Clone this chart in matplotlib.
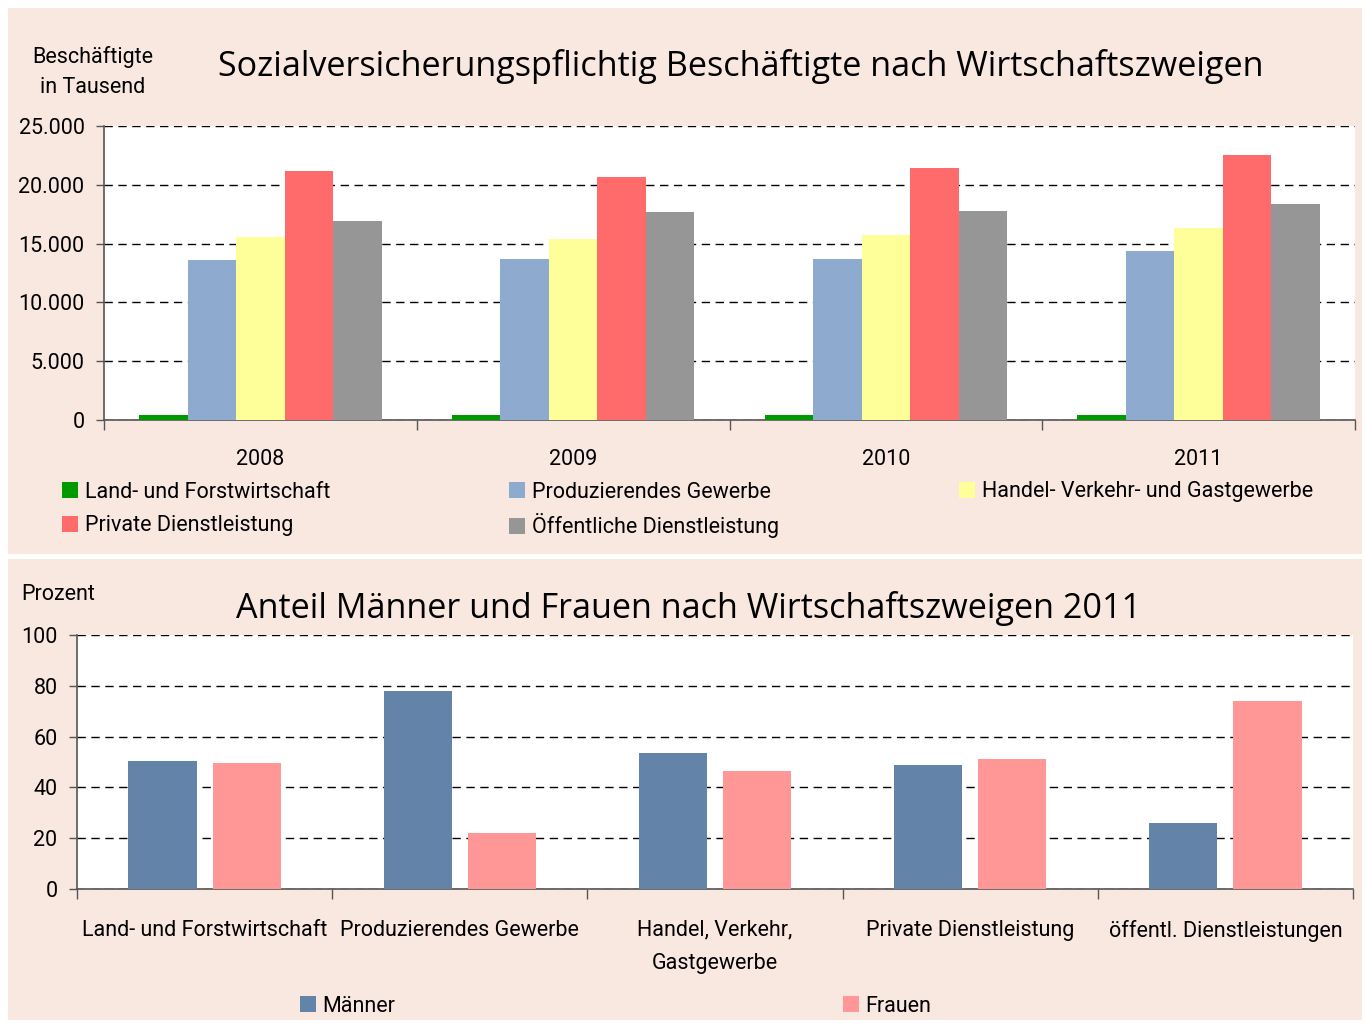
import matplotlib
matplotlib.use("Agg")
import matplotlib.pyplot as plt
import numpy as np
from matplotlib.patches import Rectangle

# ---------------- data ----------------
years = ["2008", "2009", "2010", "2011"]
sectors = ["Land- und Forstwirtschaft", "Produzierendes Gewerbe",
           "Handel- Verkehr- und Gastgewerbe", "Private Dienstleistung",
           "Öffentliche Dienstleistung"]
land = [450, 450, 450, 450]
produz = [13600, 13700, 13700, 14350]
handel = [15600, 15400, 15700, 16300]
privat = [21150, 20700, 21400, 22500]
oeff = [16950, 17700, 17750, 18350]
top_yticks = [0, 5000, 10000, 15000, 20000, 25000]
top_yticklabels = ["0", "5.000", "10.000", "15.000", "20.000", "25.000"]

branches = ["Land- und Forstwirtschaft", "Produzierendes Gewerbe",
            "Handel, Verkehr,\nGastgewerbe", "Private Dienstleistung",
            "öffentl. Dienstleistungen"]
maenner = [50.4, 78.0, 53.5, 48.8, 26.0]
frauen = [49.6, 22.0, 46.5, 51.2, 74.0]
bot_yticks = [0, 20, 40, 60, 80, 100]

# ---------------- style ----------------
W, H = 1365, 1023
BG = "#F9E8E0"
sec_colors = ["#009900", "#8FAACF", "#FFFF99", "#FF6B6B", "#969696"]
col_m = "#6384A8"
col_f = "#FF9797"
FONT = ["Roboto", "DejaVu Sans"]
TFONT = ["Open Sans", "DejaVu Sans"]
FS = 15.5
TS = 24.6
plt.rcParams["font.family"] = FONT

fig = plt.figure(figsize=(W / 100, H / 100), dpi=100)
fig.patch.set_facecolor("white")

def fx(px):
    return px / W

def fy(py):
    return 1 - py / H

# panel backgrounds
fig.patches.append(Rectangle((fx(8), fy(554)), fx(1362 - 8), (554 - 8) / H,
                             transform=fig.transFigure, facecolor=BG, edgecolor="none", zorder=-10))
fig.patches.append(Rectangle((fx(8), fy(1020)), fx(1362 - 8), (1020 - 559) / H,
                             transform=fig.transFigure, facecolor=BG, edgecolor="none", zorder=-10))

def style_axes(ax):
    ax.set_facecolor("white")
    for s in ["top", "right"]:
        ax.spines[s].set_visible(False)
    for s in ["left", "bottom"]:
        ax.spines[s].set_color("#555555")
        ax.spines[s].set_linewidth(1.2)
    ax.yaxis.grid(True, color="black", linestyle=(0, (6, 4)), linewidth=1.0)
    ax.set_axisbelow(True)
    ax.tick_params(axis="y", direction="out", length=6, width=1, color="#555555",
                   labelsize=FS, pad=8)
    ax.tick_params(axis="x", which="major", length=0, labelsize=FS)
    ax.tick_params(axis="x", which="minor", direction="out", length=7, width=1, color="#555555")

leg_kw = dict(frameon=False, fontsize=FS, handlelength=0.75, handleheight=0.75,
              handletextpad=0.3, loc="center left", borderpad=0, borderaxespad=0)

def item_legend(handle, label, xpx, ypx):
    fig.legend([handle], [label], bbox_to_anchor=(fx(xpx), fy(ypx)), **leg_kw)

# ---------------- top chart ----------------
ax1 = fig.add_axes([fx(104), fy(420), fx(1355 - 104), (420 - 126) / H])
style_axes(ax1)
x = np.arange(len(years))
bw = 0.155
series = [land, produz, handel, privat, oeff]
handles = []
for i, (vals, c, name) in enumerate(zip(series, sec_colors, sectors)):
    b = ax1.bar(x + (i - 2) * bw, vals, bw, color=c, label=name, zorder=3)
    handles.append(b)
ax1.set_xlim(-0.5, len(years) - 0.5)
ax1.set_ylim(0, 25000)
ax1.set_yticks(top_yticks)
ax1.set_yticklabels(top_yticklabels)
ax1.set_xticks(x)
ax1.set_xticklabels(years)
ax1.set_xticks(np.arange(-0.5, len(years), 1.0), minor=True)
ax1.tick_params(axis="x", which="major", pad=21)

fig.text(fx(93), fy(72), "Beschäftigte\nin Tausend", ha="center", va="center",
         fontsize=FS, linespacing=1.6)
fig.text(fx(741), fy(67), "Sozialversicherungspflichtig Beschäftigte nach Wirtschaftszweigen",
         ha="center", va="center", fontsize=TS, family=TFONT)

item_legend(handles[0], sectors[0], 62, 492)
item_legend(handles[1], sectors[1], 509, 492)
item_legend(handles[2], sectors[2], 959, 492)
item_legend(handles[3], sectors[3], 62, 526)
item_legend(handles[4], sectors[4], 509, 526)

# ---------------- bottom chart ----------------
ax2 = fig.add_axes([fx(77), fy(889), fx(1353 - 77), (889 - 635) / H])
style_axes(ax2)
x2 = np.arange(len(branches))
bw2 = 0.267
off = 0.165
bm = ax2.bar(x2 - off, maenner, bw2, color=col_m, label="Männer", zorder=3)
bf = ax2.bar(x2 + off, frauen, bw2, color=col_f, label="Frauen", zorder=3)
ax2.set_xlim(-0.5, len(branches) - 0.5)
ax2.set_ylim(0, 100)
ax2.set_yticks(bot_yticks)
ax2.set_xticks(x2)
ax2.set_xticklabels(branches, linespacing=1.75)
ax2.set_xticks(np.arange(-0.5, len(branches), 1.0), minor=True)
ax2.tick_params(axis="x", which="major", pad=22)

fig.text(fx(21), fy(594), "Prozent", ha="left", va="center", fontsize=FS)
fig.text(fx(688), fy(609), "Anteil Männer und Frauen nach Wirtschaftszweigen 2011",
         ha="center", va="center", fontsize=TS, family=TFONT)

item_legend(bm, "Männer", 300, 1006)
item_legend(bf, "Frauen", 843, 1006)

fig.savefig("out.png", dpi=100, facecolor="white")
